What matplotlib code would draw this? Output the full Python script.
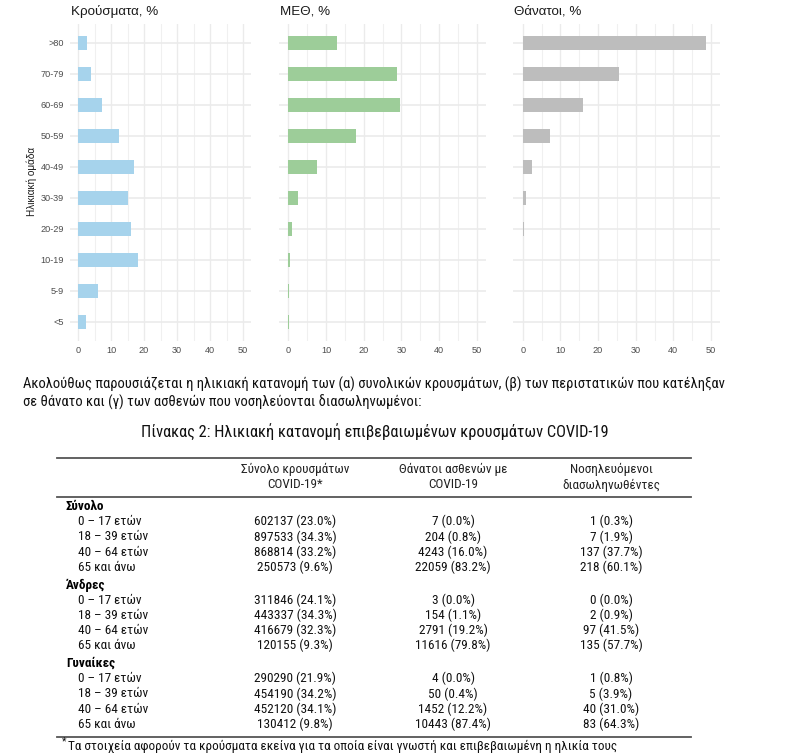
import os
import matplotlib
matplotlib.use("Agg")
import matplotlib.pyplot as plt
from matplotlib import font_manager as fm
from matplotlib.ticker import MultipleLocator

# age groups, percentages per panel
ages = ["<5", "5-9", "10-19", "20-29", "30-39", "40-49", "50-59", "60-69", "70-79", ">80"]
cases_pct = [2.4, 6.1, 18.1, 16.0, 15.0, 17.0, 12.4, 7.2, 4.0, 2.7]
icu_pct_bars = [0.2, 0.2, 0.4, 1.0, 2.6, 7.6, 17.9, 29.6, 28.8, 12.9]
deaths_pct_bars = [0.1, 0.0, 0.1, 0.3, 0.9, 2.5, 7.2, 16.0, 25.6, 48.6]
panel_titles = ["Κρούσματα, %", "ΜΕΘ, %", "Θάνατοι, %"]
panel_colors = ["#a6d3ec", "#9dcd99", "#bdbdbd"]

# table
groups = ["Σύνολο", "Άνδρες", "Γυναίκες"]
age_rows = ["0 – 17 ετών", "18 – 39 ετών", "40 – 64 ετών", "65 και άνω"]
col_heads = [("Σύνολο κρουσμάτων", "COVID-19*"),
             ("Θάνατοι ασθενών με", "COVID-19"),
             ("Νοσηλευόμενοι", "διασωληνωθέντες")]
case_n = [602137, 897533, 868814, 250573, 311846, 443337, 416679, 120155,
          290290, 454190, 452120, 130412]
case_p = [23.0, 34.3, 33.2, 9.6, 24.1, 34.3, 32.3, 9.3, 21.9, 34.2, 34.1, 9.8]
death_n = [7, 204, 4243, 22059, 3, 154, 2791, 11616, 4, 50, 1452, 10443]
death_p = [0.0, 0.8, 16.0, 83.2, 0.0, 1.1, 19.2, 79.8, 0.0, 0.4, 12.2, 87.4]
icu_n = [1, 7, 137, 218, 0, 2, 97, 135, 1, 5, 40, 83]
icu_p = [0.3, 1.9, 37.7, 60.1, 0.0, 0.9, 41.5, 57.7, 0.8, 3.9, 31.0, 64.3]

para_lines = [
    "Ακολούθως παρουσιάζεται η ηλικιακή κατανομή των (α) συνολικών κρουσμάτων, (β) των περιστατικών που κατέληξαν",
    "σε θάνατο και (γ) των ασθενών που νοσηλεύονται διασωληνωμένοι:",
]
table_title = "Πίνακας 2: Ηλικιακή κατανομή επιβεβαιωμένων κρουσμάτων COVID-19"
footnote = "Τα στοιχεία αφορούν τα κρούσματα εκείνα για τα οποία είναι γνωστή και επιβεβαιωμένη η ηλικία τους"

W, H = 796, 753
fig = plt.figure(figsize=(W / 100, H / 100), dpi=100)
renderer = fig.canvas.get_renderer()

chart_font = ["Liberation Sans", "DejaVu Sans"]

# the text part of the page is set in a condensed face; look for one
prefer = ["notosans-condensed", "robotocondensed", "liberationsansnarrow",
          "dejavusanscondensed", "opensans-condensed", "opensanscondensed"]
skip = ["italic", "oblique", "light", "thin", "medium", "black", "semi", "extra"]


def find_face(bold):
    files = sorted(set(f.fname for f in fm.fontManager.ttflist))
    for p in prefer:
        for f in files:
            b = os.path.basename(f).lower().replace("_", "-").replace(" ", "")
            if not b.startswith(p):
                continue
            if any(s in b for s in skip):
                continue
            if ("bold" in b) != bold:
                continue
            return f
    return None


reg_file = find_face(False)
bold_file = find_face(True)
if reg_file:
    text_prop = fm.FontProperties(fname=reg_file)
else:
    text_prop = fm.FontProperties(family=["Liberation Sans", "DejaVu Sans"])
if bold_file:
    bold_prop = fm.FontProperties(fname=bold_file)
else:
    bold_prop = text_prop.copy()
    bold_prop.set_weight("bold")


def fx(x):
    return x / W


def fy(y):
    return 1 - y / H


def fit(t, width):
    w = t.get_window_extent(renderer).width
    t.set_fontsize(t.get_fontsize() * width / w)
    return t.get_fontsize()


def ptext(x, y, s, size, bold=False, **kw):
    p = (bold_prop if bold else text_prop).copy()
    p.set_size(size)
    return fig.text(fx(x), fy(y), s, fontproperties=p, va="center",
                    color=kw.pop("color", "#111111"), **kw)


# --- bar panels ---
# (zero pixel, fifty pixel) for each panel
panel_x = [(78, 243), (288.3, 476.7), (522.7, 711)]
top, bottom = 24.4, 340.6
values = [cases_pct, icu_pct_bars, deaths_pct_bars]
for i, (x0, x50) in enumerate(panel_x):
    scale = (x50 - x0) / 50
    left = x0 - 2.5 * scale
    right = x50 + 2.5 * scale
    ax = fig.add_axes([fx(left), fy(bottom), (right - left) / W, (bottom - top) / H])
    ax.barh(range(len(ages)), values[i], height=0.42, color=panel_colors[i], zorder=2)
    ax.set_xlim(-2.5, 52.5)
    ax.set_ylim(-0.6, len(ages) - 0.4)
    ax.xaxis.set_major_locator(MultipleLocator(10))
    ax.xaxis.set_minor_locator(MultipleLocator(5))
    ax.grid(which="major", axis="x", color="#ebebeb", lw=1.0, zorder=0)
    ax.grid(which="minor", axis="x", color="#f0f0f0", lw=0.8, zorder=0)
    ax.grid(which="major", axis="y", color="#ebebeb", lw=1.2, zorder=0)
    for s in ax.spines.values():
        s.set_visible(False)
    ax.tick_params(which="both", length=0, labelsize=6.6, labelcolor="#4d4d4d", pad=4)
    for lab in ax.get_xticklabels():
        lab.set_family(chart_font)
    ax.set_yticks(range(len(ages)))
    if i == 0:
        ax.set_yticklabels(ages, family=chart_font)
    else:
        ax.set_yticklabels([])
    fig.text(fx(left + 1), fy(12), panel_titles[i], family=chart_font, fontsize=9.6,
             color="#1a1a1a", ha="left", va="center")

fig.text(fx(32), fy(181), "Ηλικιακή ομάδα", family=chart_font, fontsize=7.2,
         rotation=90, ha="center", va="center", color="#1a1a1a")

# --- paragraph and table title ---
t = ptext(23, 384, para_lines[0], 10, ha="left")
para_size = fit(t, 701)
ptext(23, 402, para_lines[1], para_size, ha="left")
t = ptext(374.5, 432, table_title, 12, ha="center")
fit(t, 469)

# --- table ---
rule_kw = dict(color="#555555", lw=1.3)
for y in (457.5, 496.8, 736.5):
    fig.add_artist(plt.Line2D([fx(57), fx(691)], [fy(y), fy(y)], **rule_kw))

col_x = [295, 453, 611]
tsize = 9.5

for c, (l1, l2) in enumerate(col_heads):
    ptext(col_x[c], 469.5, l1, tsize, ha="center", color="#222222")
    ptext(col_x[c], 485, l2, tsize, ha="center", color="#222222")

group_y = [506.5, 585, 663.5]
pitch = 15.2
for g, name in enumerate(groups):
    ptext(66, group_y[g], name, tsize, bold=True, ha="left", color="#000000")
    for r, age in enumerate(age_rows):
        k = g * 4 + r
        y = group_y[g] + pitch * (r + 1)
        ptext(78, y, age, tsize, ha="left")
        cells = [f"{case_n[k]} ({case_p[k]:.1f}%)",
                 f"{death_n[k]} ({death_p[k]:.1f}%)",
                 f"{icu_n[k]} ({icu_p[k]:.1f}%)"]
        for c, s in enumerate(cells):
            ptext(col_x[c], y, s, tsize, ha="center")

ptext(64, 741.5, "*", tsize * 0.8, ha="center")
t = ptext(68, 746.5, footnote, tsize, ha="left")
fit(t, 554)

fig.savefig("out.png", dpi=100)
